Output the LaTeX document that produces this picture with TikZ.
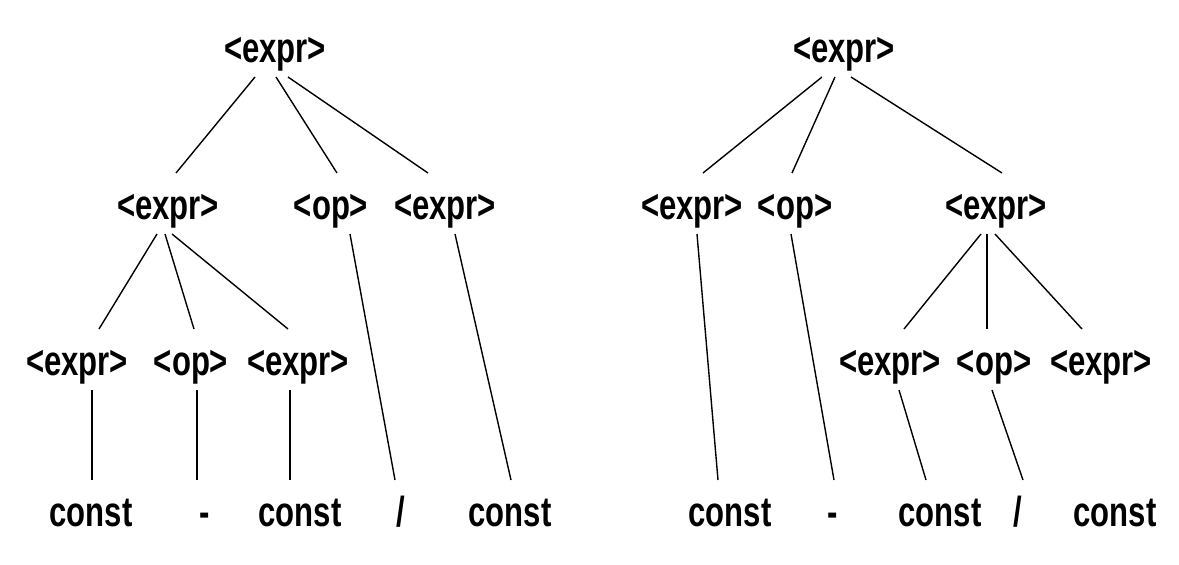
\documentclass[tikz,border=0pt]{standalone}
\usepackage{fontspec}
\newfontfamily\treefont{Liberation Sans}[FakeStretch=0.74]
\tikzset{
  sym/.style={anchor=base, font=\treefont\bfseries\fontsize{42}{50}\selectfont,
    text height=37pt, text depth=6pt, inner xsep=0pt, inner ysep=9pt, outer sep=0pt},
  edge/.style={line width=1.4pt}
}
\begin{document}
\begin{tikzpicture}[x=1pt, y=-1pt]
  \useasboundingbox (0,0) rectangle (1179,565);
  % left tree: (const - const) / const
  \node[sym] (L) at (275,62) {<expr>};
  \node[sym] (La) at (168,219) {<expr>};
  \node[sym] (Lo) at (331,219) {<op>};
  \node[sym] (Lb) at (445,219) {<expr>};
  \node[sym] (Laa) at (77,375) {<expr>};
  \node[sym] (Lao) at (191,375) {<op>};
  \node[sym] (Lab) at (298,375) {<expr>};
  \node[sym] (c1) at (91,526) {const};
  \node[sym] (m1) at (205,526) {-};
  \node[sym] (c2) at (300,526) {const};
  \node[sym] (s1) at (401,526) {/};
  \node[sym] (c3) at (510,526) {const};

  \draw[edge] ([xshift=-20pt]L.south) to ([xshift=8pt]La.north); \draw[edge] ([xshift=1pt]L.south) to ([xshift=6pt]Lo.north); \draw[edge] ([xshift=13pt]L.south) to ([xshift=-17pt]Lb.north);
  \draw[edge] ([xshift=-11pt]La.south) to ([xshift=22pt]Laa.north); \draw[edge] ([xshift=-3pt]La.south) to ([xshift=3pt]Lao.north); \draw[edge] ([xshift=4pt]La.south) to ([xshift=-10pt]Lab.north);
  \draw[edge] ([xshift=19pt]Lo.south) to ([xshift=-6pt]s1.north); \draw[edge] ([xshift=10pt]Lb.south) to ([xshift=1pt]c3.north);
  \draw[edge] ([xshift=15pt]Laa.south) to ([xshift=1pt]c1.north); \draw[edge] ([xshift=6pt]Lao.south) to ([xshift=-8pt]m1.north); \draw[edge] ([xshift=-8pt]Lab.south) to ([xshift=-10pt]c2.north);

  % right tree: const - (const / const)
  \node[sym] (R) at (844,62) {<expr>};
  \node[sym] (Ra) at (692,219) {<expr>};
  \node[sym] (Ro) at (795,219) {<op>};
  \node[sym] (Rb) at (996,219) {<expr>};
  \node[sym] (Rba) at (890,375) {<expr>};
  \node[sym] (Rbo) at (994,375) {<op>};
  \node[sym] (Rbb) at (1101,375) {<expr>};
  \node[sym] (c4) at (730,526) {const};
  \node[sym] (m2) at (833,526) {-};
  \node[sym] (c5) at (940,526) {const};
  \node[sym] (s2) at (1018,526) {/};
  \node[sym] (c6) at (1115,526) {const};

  \draw[edge] ([xshift=-22pt]R.south) to ([xshift=11pt]Ra.north); \draw[edge] ([xshift=-9pt]R.south) to ([xshift=-3pt]Ro.north); \draw[edge] ([xshift=7pt]R.south) to ([xshift=6pt]Rb.north);
  \draw[edge] ([xshift=5pt]Ra.south) to ([xshift=-12pt]c4.north); \draw[edge] ([xshift=-4pt]Ro.south) to ([xshift=1pt]m2.north);
  \draw[edge] ([xshift=-15pt]Rb.south) to ([xshift=14pt]Rba.north); \draw[edge] ([xshift=-9pt]Rb.south) to ([xshift=-7pt]Rbo.north); \draw[edge] ([xshift=-1pt]Rb.south) to ([xshift=-19pt]Rbb.north);
  \draw[edge] ([xshift=9pt]Rba.south) to ([xshift=-14pt]c5.north); \draw[edge] ([xshift=-2pt]Rbo.south) to ([xshift=5pt]s2.north);
\end{tikzpicture}
\end{document}
